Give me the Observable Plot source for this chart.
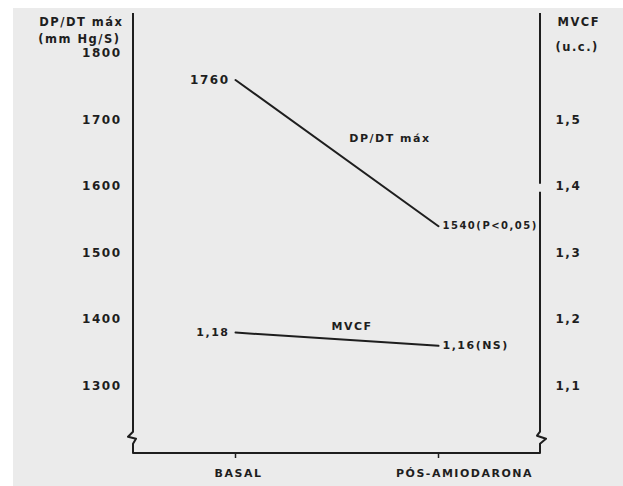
<!DOCTYPE html>
<html><head><meta charset="utf-8">
<script src="https://cdn.jsdelivr.net/npm/d3@7"></script>
<script src="https://cdn.jsdelivr.net/npm/@observablehq/plot@0.6"></script>
<style>
body{margin:0;background:#fff;}
#wrap{position:absolute;left:13px;top:8px;width:610px;height:478px;background:#ebebeb;overflow:hidden;}
#wrap svg{position:absolute;left:-13px;top:-8px;max-width:none !important;width:623px;height:486px;}
</style></head><body><div id="wrap"></div>
<script>
// ---- data ----
const categories = ["BASAL", "PÓS-AMIODARONA"];
const dpdtValues = [1760, 1540];
const mvcfValues = [1.18, 1.16];
const dpdtLabels = ["1760", "1540(P<0,05)"];
const mvcfLabels = ["1,18", "1,16(NS)"];
const dpdtTicks = [1300, 1400, 1500, 1600, 1700, 1800];
const mvcfTicks = [1.1, 1.2, 1.3, 1.4, 1.5];
const leftTitle = ["DP/DT máx", "(mm Hg/S)"];
const rightTitle = ["MVCF", "(u.c.)"];
const seriesNames = ["DP/DT máx", "MVCF"];

// right scale (MVCF) is drawn against the left scale: 1,1 ↔ 1300 ... 1,5 ↔ 1700
const mvcfToDpdt = v => v * 1000 + 200;
const fmtComma = v => d3.format(".1f")(v).replace(".", ",");

const dpdt = categories.map((c, i) => ({cat: c, y: dpdtValues[i], label: dpdtLabels[i]}));
const mvcf = categories.map((c, i) => ({cat: c, y: mvcfToDpdt(mvcfValues[i]), label: mvcfLabels[i]}));

const ink = "#1e1e1e";
const breakValue = 1221;   // where the axes are broken (value on left scale)
const gapValue = 1597;     // small gap in the right axis line

function frameLines(index, scales, values, dim) {
  const L = dim.marginLeft, R = dim.width - dim.marginRight;
  const T = dim.marginTop - 2, B = dim.height - dim.marginBottom;
  const yb = scales.y(breakValue), yg = scales.y(gapValue);
  const g = d3.create("svg:g").attr("fill", "none").attr("stroke", ink)
    .attr("stroke-width", 2).attr("stroke-linejoin", "round");
  g.append("path").attr("d",
    `M${L},${T}V${yb - 6}L${L - 5},${yb - 1}L${L + 3},${yb + 1}L${L},${yb + 6}V${B}H${R}V${yb + 6}L${R + 6},${yb + 1}L${R - 3},${yb - 2}L${R},${yb - 6}V${yg + 4}`);
  g.append("path").attr("d", `M${R},${yg - 4}V${T}`);
  return g.node();
}

const chart = Plot.plot({
  width: 623, height: 486,
  marginLeft: 133, marginRight: 83, marginTop: 15, marginBottom: 33,
  style: {background: "transparent", fontFamily: "DejaVu Sans", color: ink, letterSpacing: "1.5px", fontWeight: "bold"},
  x: {type: "point", domain: categories, padding: 0.5},
  y: {domain: [1198, 1857]},
  marks: [
    frameLines,
    Plot.axisY({ticks: dpdtTicks, anchor: "left", tickSize: 0, tickPadding: 12, fontSize: 12, label: null, tickFormat: d => String(d)}),
    Plot.axisY({ticks: mvcfTicks.map(mvcfToDpdt), anchor: "right", tickSize: 0, tickPadding: 15, fontSize: 12, label: null,
      tickFormat: d => fmtComma((d - 200) / 1000)}),
    Plot.axisX({anchor: "bottom", tickSize: 5, stroke: ink, strokeWidth: 1.5, tickFormat: () => "", label: null}),
    Plot.text([categories[0]], {x: d => d, frameAnchor: "bottom", dy: 23, dx: 3, fontSize: 11}),
    Plot.text([categories[1]], {x: d => d, frameAnchor: "bottom", dy: 23, dx: 26, fontSize: 11}),
    Plot.text([leftTitle[0]], {frameAnchor: "top-left", textAnchor: "end", dx: -10, dy: 2, fontSize: 11.5}),
    Plot.text([leftTitle[1]], {frameAnchor: "top-left", textAnchor: "end", dx: -13, dy: 19, fontSize: 11.5}),
    Plot.text([rightTitle[0]], {frameAnchor: "top-right", textAnchor: "start", dx: 17, dy: 2, fontSize: 11.5}),
    Plot.text([rightTitle[1]], {frameAnchor: "top-right", textAnchor: "start", dx: 15, dy: 27, fontSize: 11.5}),
    Plot.line(dpdt, {x: "cat", y: "y", stroke: ink, strokeWidth: 2}),
    Plot.line(mvcf, {x: "cat", y: "y", stroke: ink, strokeWidth: 2}),
    Plot.text(dpdt.slice(0, 1), {x: "cat", y: "y", text: "label", textAnchor: "end", dx: -6, fontSize: 12}),
    Plot.text(dpdt.slice(1), {x: "cat", y: "y", text: "label", textAnchor: "start", dx: 4, fontSize: 10}),
    Plot.text(mvcf.slice(0, 1), {x: "cat", y: "y", text: "label", textAnchor: "end", dx: -6, fontSize: 11}),
    Plot.text(mvcf.slice(1), {x: "cat", y: "y", text: "label", textAnchor: "start", dx: 4, fontSize: 11}),
    Plot.text([{cat: categories[1], y: d3.mean(dpdtValues), name: seriesNames[0]}],
      {x: "cat", y: "y", text: "name", textAnchor: "end", dx: -8, dy: -15, fontSize: 11}),
    Plot.text([{cat: categories[1], y: mvcfToDpdt(d3.mean(mvcfValues)), name: seriesNames[1]}],
      {x: "cat", y: "y", text: "name", textAnchor: "end", dx: -66, dy: -13, fontSize: 11})
  ]
});
document.getElementById("wrap").appendChild(chart);
</script>
</body></html>
